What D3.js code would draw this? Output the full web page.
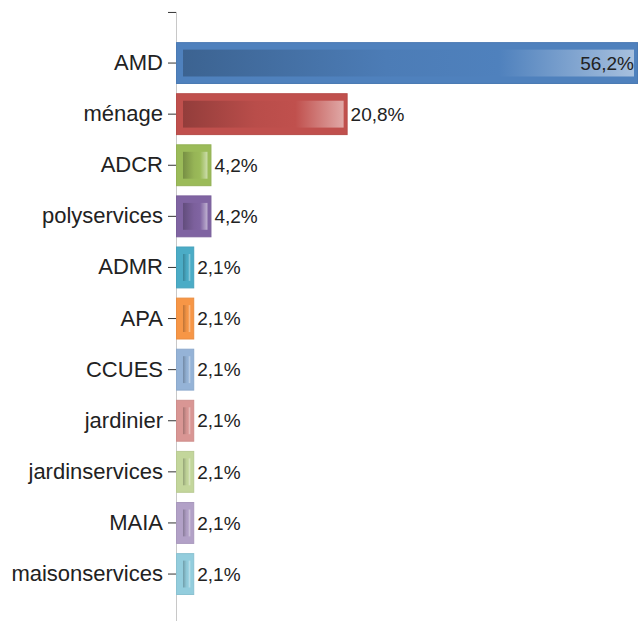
<!DOCTYPE html>
<html lang="fr">
<head>
<meta charset="utf-8">
<script src="https://d3js.org/d3.v7.min.js"></script>
<style>
  body { margin: 0; background: #fff; }
  svg text { font-family: "Liberation Sans", Arial, sans-serif; fill: #222; }
</style>
</head>
<body>
<svg width="640" height="621"></svg>
<script>
// categories and values (percent)
var categories = ["AMD", "ménage", "ADCR", "polyservices", "ADMR", "APA", "CCUES",
                  "jardinier", "jardinservices", "MAIA", "maisonservices"];
var values = [56.2, 20.8, 4.2, 4.2, 2.1, 2.1, 2.1, 2.1, 2.1, 2.1, 2.1];
var barColors = ["#4f81bd", "#c0504d", "#9bbb59", "#8064a2", "#4bacc6", "#f79646",
                 "#95b3d7", "#d99694", "#c3d69b", "#b2a1c7", "#93cddd"];
var valueLabels = ["56,2%", "20,8%", "4,2%", "4,2%", "2,1%", "2,1%", "2,1%", "2,1%", "2,1%", "2,1%", "2,1%"];

var svg = d3.select("svg");
var left = 177;

var y = d3.scaleBand()
  .domain(categories)
  .range([37.5, 599.6])
  .paddingInner(0.2)
  .paddingOuter(0.1);

var x = d3.scaleLinear()
  .domain([0, 56.2])
  .range([left, 638]);

var data = categories.map(function(c, i) {
  return { name: c, value: values[i], color: barColors[i], label: valueLabels[i] };
});

// gradients for the inner highlight of each bar
var defs = svg.append("defs");
data.forEach(function(d, i) {
  var c = d3.color(d.color);
  var g = defs.append("linearGradient").attr("id", "grad" + i)
    .attr("x1", "0%").attr("x2", "100%").attr("y1", "0%").attr("y2", "0%");
  g.append("stop").attr("offset", "0%").attr("stop-color", c.darker(0.75));
  g.append("stop").attr("offset", "45%").attr("stop-color", c.darker(0.1));
  g.append("stop").attr("offset", "70%").attr("stop-color", d.color);
  g.append("stop").attr("offset", "100%").attr("stop-color", d3.interpolateRgb(d.color, "#fff")(0.5));
});

// axis line (gray) with an extra tick above the first category
var step = y.step();
var topY = y(categories[0]) + y.bandwidth() / 2 - step;
svg.append("line")
  .attr("x1", left - 0.5).attr("x2", left - 0.5)
  .attr("y1", topY).attr("y2", 621)
  .attr("stroke", "#c8c8c8");
svg.append("line")
  .attr("x1", left - 9).attr("x2", left - 1)
  .attr("y1", topY + 0.5).attr("y2", topY + 0.5)
  .attr("stroke", "#333");

var bars = svg.append("g").selectAll("g")
  .data(data)
  .enter().append("g");

bars.append("rect")
  .attr("x", x(0) - 0.5)
  .attr("y", function(d) { return y(d.name); })
  .attr("width", function(d) { return x(d.value) - x(0); })
  .attr("height", y.bandwidth())
  .attr("fill", function(d) { return d.color; })
  .attr("stroke", function(d) { return d3.color(d.color).darker(0.15); })
  .attr("stroke-width", 1);

bars.append("rect")
  .attr("x", x(0) + 6)
  .attr("y", function(d) { return y(d.name) + 7; })
  .attr("width", function(d) { return Math.max(2, x(d.value) - x(0) - 10); })
  .attr("height", y.bandwidth() - 14)
  .attr("fill", function(d, i) { return "url(#grad" + i + ")"; });

// value labels
bars.append("text")
  .attr("x", function(d, i) { return i === 0 ? x(d.value) - 4 : x(d.value) + 3; })
  .attr("y", function(d) { return y(d.name) + y.bandwidth() / 2; })
  .attr("dy", "0.35em")
  .attr("text-anchor", function(d, i) { return i === 0 ? "end" : "start"; })
  .style("font-size", "19px")
  .text(function(d) { return d.label; });

// category axis
var axis = svg.append("g")
  .attr("transform", "translate(" + (left - 1) + ",0)")
  .call(d3.axisLeft(y).tickSize(8).tickPadding(5));
axis.select(".domain").remove();
axis.selectAll(".tick line").attr("stroke", "#333");
axis.selectAll(".tick text")
  .style("font-size", "22px")
  .style("font-family", "'Liberation Sans', Arial, sans-serif")
  .attr("fill", "#222");
</script>
</body>
</html>
